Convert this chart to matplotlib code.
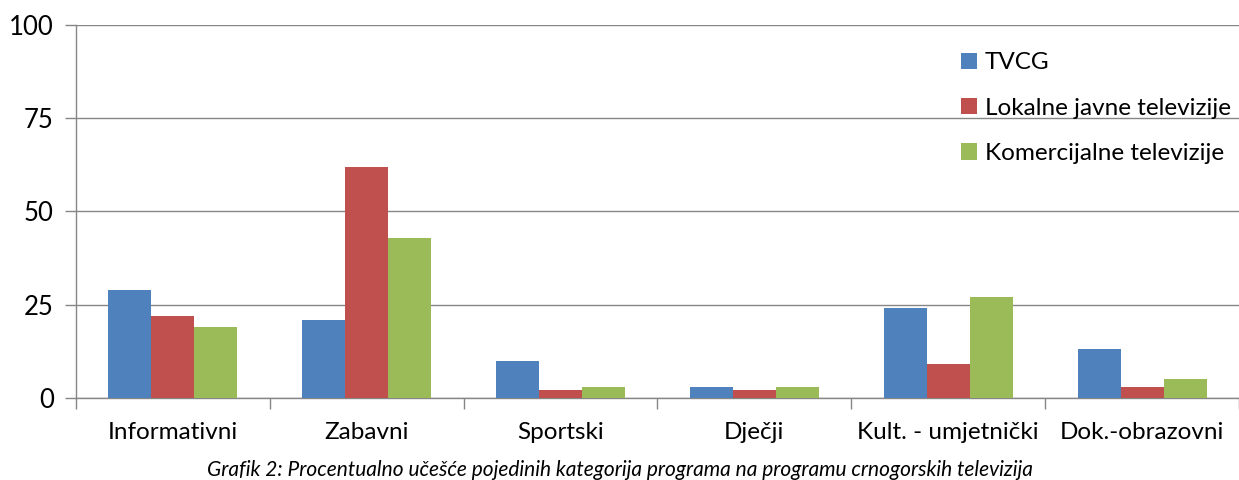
import matplotlib
matplotlib.use("Agg")
import matplotlib.pyplot as plt
import numpy as np

categories = ["Informativni", "Zabavni", "Sportski", "Dječji", "Kult. - umjetnički", "Dok.-obrazovni"]
tvcg = [29, 21, 10, 3, 24, 13]
lokalne = [22, 62, 2, 2, 9, 3]
komercijalne = [19, 43, 3, 3, 27, 5]
series_names = ["TVCG", "Lokalne javne televizije", "Komercijalne televizije"]
colors = ["#4F81BD", "#C0504D", "#9BBB59"]
y_ticks = [0, 25, 50, 75, 100]

plt.rcParams['font.family'] = ['Lato', 'DejaVu Sans']

fig = plt.figure(figsize=(12.39, 4.8), dpi=100)
ax = fig.add_axes([0.0613, 0.171, 0.9387, 0.777])

x = np.arange(len(categories))
w = 0.222
for i, (vals, name, c) in enumerate(zip([tvcg, lokalne, komercijalne], series_names, colors)):
    ax.bar(x + (i - 1) * w, vals, width=w, color=c, label=name, zorder=3)

ax.set_xlim(-0.5, len(categories) - 0.5)
ax.set_ylim(0, 100)
ax.set_yticks(y_ticks)
ax.set_yticklabels([str(t) for t in y_ticks], fontsize=18.5)
ax.yaxis.grid(True, color="#868686", linewidth=1, zorder=0)

ax.set_xticks(x)
ax.set_xticklabels(categories, fontsize=17.5)
ax.tick_params(axis="x", length=0, pad=17)
ax.set_xticks(np.arange(-0.5, len(categories) - 0.4, 1), minor=True)
ax.tick_params(axis="x", which="minor", length=8, color="#868686", width=1)
ax.tick_params(axis="y", length=8, color="#868686", width=1, pad=8)

for s in ["top", "right"]:
    ax.spines[s].set_visible(False)
for s in ["left", "bottom"]:
    ax.spines[s].set_color("#868686")
    ax.spines[s].set_linewidth(1)

leg = ax.legend(loc="upper left", bbox_to_anchor=(0.742, 0.985), frameon=False,
                fontsize=17.5, handlelength=0.65, handleheight=0.65, handletextpad=0.35,
                labelspacing=1.0)

fig.text(0.5, 0.02, "Grafik 2: Procentualno učešće pojedinih kategorija programa na programu crnogorskih televizija",
         ha="center", va="center", fontsize=15, style="italic")

fig.savefig("out.png", dpi=100)
